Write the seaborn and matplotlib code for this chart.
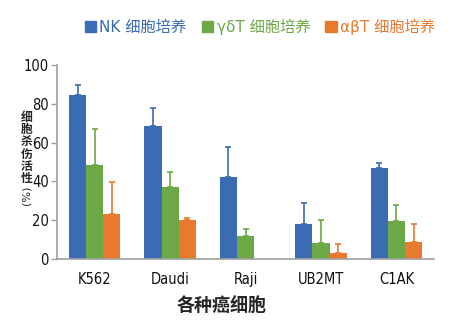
import matplotlib
matplotlib.use("Agg")
import matplotlib.pyplot as plt
import seaborn as sns
import pandas as pd
import numpy as np
from matplotlib.patches import Patch

categories = ["K562", "Daudi", "Raji", "UB2MT", "C1AK"]
groups = ["NK 细胞培养", "γδT 细胞培养", "αβT 细胞培养"]
nk_vals = [84.5, 68.5, 42.4, 18.0, 47.0]
nk_err_top = [89.7, 78.0, 57.7, 28.9, 49.4]
gd_vals = [48.5, 37.0, 12.0, 8.2, 19.6]
gd_err_top = [67.0, 45.0, 15.5, 20.0, 27.8]
ab_vals = [23.2, 20.0, 0.0, 3.2, 8.8]
ab_err_top = [39.7, 21.0, 0.0, 8.0, 18.0]
yticks = [0, 20, 40, 60, 80, 100]
colors = ["#3A6BB3", "#6DA846", "#E8792F"]

sns.set_style("white")
plt.rcParams['font.family'] = ['DejaVu Sans', 'Noto Sans CJK SC']

df = pd.DataFrame({
    "cell": categories * 3,
    "group": sum([[g] * len(categories) for g in groups], []),
    "val": nk_vals + gd_vals + ab_vals,
})
tops = [nk_err_top, gd_err_top, ab_err_top]

fig = plt.figure(figsize=(4.59, 3.30), dpi=100)
ax = fig.add_axes([0.124, 0.215, 0.822, 0.588])
sns.barplot(data=df, x="cell", y="val", hue="group", palette=colors,
            width=0.68, errorbar=None, legend=False, ax=ax, saturation=1,
            order=categories, hue_order=groups, linewidth=0)

bar_conts = list(ax.containers)
for i, cont in enumerate(bar_conts):
    for j, bar in enumerate(cont):
        if bar is None:
            continue
        v = bar.get_height()
        t = tops[i][j]
        if t > v:
            xc = bar.get_x() + bar.get_width() / 2
            ax.errorbar([xc], [v], yerr=[[0], [t - v]], fmt="none",
                        ecolor=colors[i], elinewidth=1.2, capsize=2, capthick=1.2)

ax.set_ylim(0, 100)
ax.set_xlim(-0.5, len(categories) - 0.5)
ax.set_yticks(yticks)
ax.set_xticks(np.arange(len(categories)))
ax.set_xticklabels(categories)
ax.set_xticks(np.arange(len(categories) + 1) - 0.5, minor=True)
ax.tick_params(axis="x", which="major", length=0, pad=9)
ax.tick_params(axis="x", which="minor", length=5, width=1, color="#A0A0A0", direction="out")
ax.tick_params(axis="y", length=4, width=1, color="#A0A0A0", direction="out", pad=2, left=True)
for lab in ax.get_xticklabels() + ax.get_yticklabels():
    lab.set_family(['DejaVu Sans'])
    lab.set_stretch('condensed')
    lab.set_fontsize(10.5)
    lab.set_color("#111111")
sns.despine(ax=ax)
for s in ["left", "bottom"]:
    ax.spines[s].set_color("#A0A0A0")
    ax.spines[s].set_linewidth(1.2)
ax.set_xlabel("")
ax.set_ylabel("")

fig.text(222 / 459, 1 - 306 / 330, "各种癌细胞", ha="center", va="center",
         fontsize=13, fontweight="bold", family=['Noto Sans CJK SC'])
fig.text(26.5 / 459, 1 - 148 / 330, "\n".join("细胞杀伤活性"), ha="center", va="center",
         fontsize=8.5, fontweight="bold", family=['Noto Sans CJK SC'], linespacing=0.92)
fig.text(26 / 459, 1 - 195 / 330, "(%)", ha="center", va="center", rotation=90,
         fontsize=8, family=['DejaVu Sans'])

handles = [Patch(facecolor=c, edgecolor=c) for c in colors]
leg = fig.legend(handles, groups, loc="center", bbox_to_anchor=(260 / 459, 1 - 27 / 330),
                 ncol=3, frameon=False, handlelength=0.75, handleheight=0.75,
                 handletextpad=0.2, columnspacing=1.0, fontsize=11)
for t, c in zip(leg.get_texts(), colors):
    t.set_color(c)

fig.savefig("out.png", dpi=100)
